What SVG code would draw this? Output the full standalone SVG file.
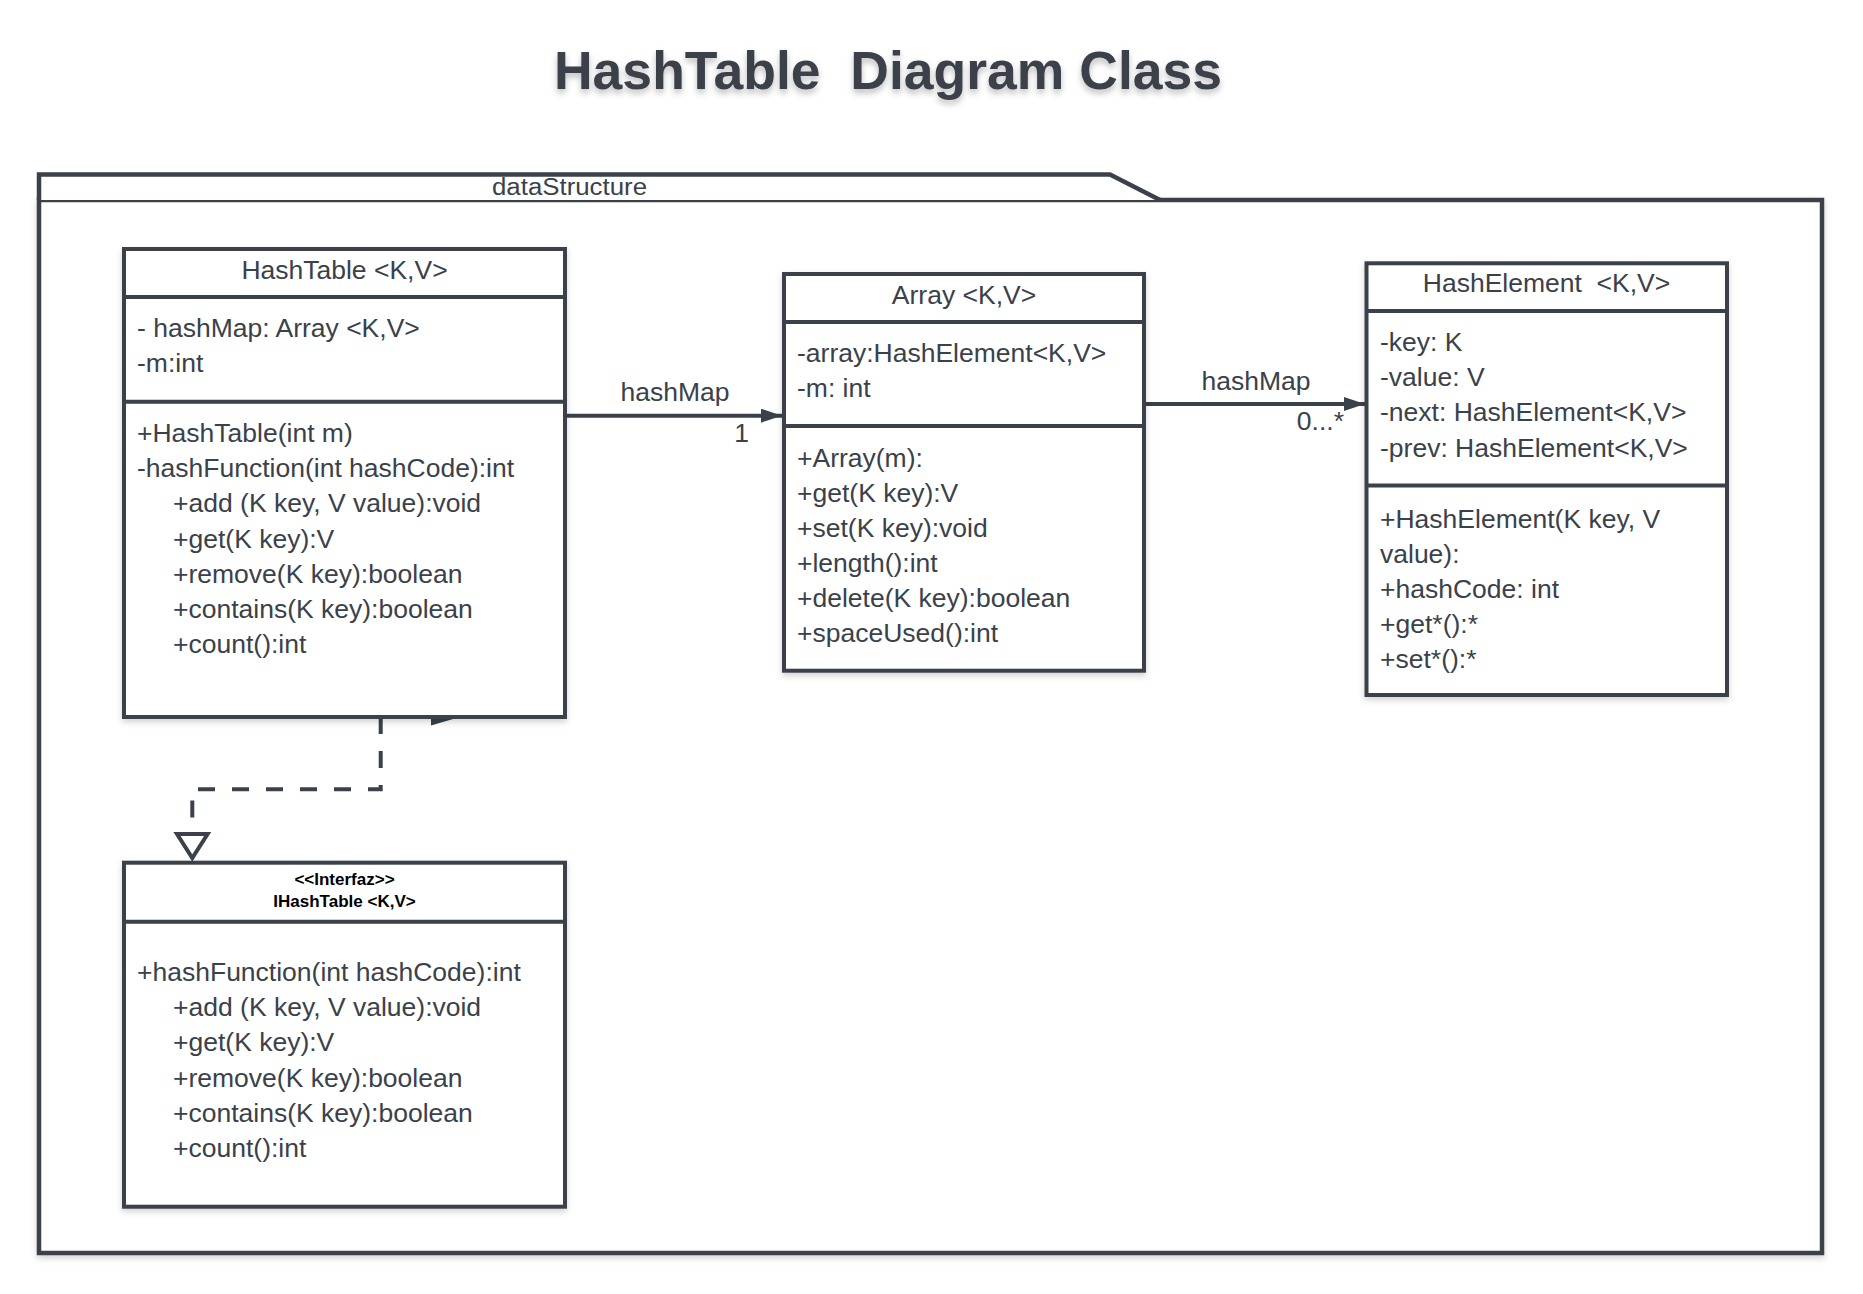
<svg xmlns="http://www.w3.org/2000/svg" width="1863" height="1294" viewBox="0 0 1863 1294">
<defs>
<style>
.box{fill:#fff;stroke:#3a414a;stroke-width:4}
.pk{fill:#fff;stroke:#3a414a;stroke-width:4.5}
.dv{stroke:#3a414a;stroke-width:4;fill:none}
.t{font-family:"Liberation Sans",Arial,sans-serif;font-size:26.5px;fill:#3a414a}
.c{text-anchor:middle}
.e{text-anchor:end}
.hb{font-family:"Liberation Sans",Arial,sans-serif;font-size:17px;font-weight:bold;fill:#000;text-anchor:middle}
.conn{stroke:#3a414a;stroke-width:4;fill:none}
</style>
<filter id="sh" x="-5%" y="-5%" width="110%" height="115%">
<feDropShadow dx="0" dy="3" stdDeviation="3" flood-color="#000" flood-opacity="0.18"/>
</filter>
<filter id="tsh" x="-10%" y="-30%" width="120%" height="170%">
<feDropShadow dx="0" dy="4" stdDeviation="3" flood-color="#000" flood-opacity="0.25"/>
</filter>
<marker id="arr" markerUnits="userSpaceOnUse" markerWidth="22" markerHeight="16" refX="21" refY="7" orient="auto">
<path d="M0,0 L21,7 L0,14 z" fill="#3a414a"/>
</marker>
</defs>

<text x="888" y="89" xml:space="preserve" filter="url(#tsh)" style="font-family:'Liberation Sans',Arial,sans-serif;font-size:53.5px;font-weight:bold;fill:#3a414a;text-anchor:middle">HashTable  Diagram Class</text>

<g id="package-dataStructure">
<rect x="39" y="200" width="1783" height="1053" class="pk" filter="url(#sh)"/>
<path d="M39,200 V174.5 H1110 L1160,200" class="pk"/>
<text x="569.5" y="195" class="t c" style="font-size:23px" textLength="155" lengthAdjust="spacingAndGlyphs">dataStructure</text>
</g>

<g id="connectors">
<line x1="565" y1="415.7" x2="782" y2="415.7" class="conn" marker-end="url(#arr)"/>
<text x="675" y="401" class="t c">hashMap</text>
<text x="749" y="442" class="t e">1</text>
<line x1="1144" y1="404" x2="1365" y2="404" class="conn" marker-end="url(#arr)"/>
<text x="1256" y="390" class="t c">hashMap</text>
<text x="1344" y="430" class="t e">0...*</text>
<path d="M380.7,717 V789.3 H192.3 V834" class="conn" stroke-dasharray="17 17"/>
<polygon points="177,834 207.6,834 192.3,858" fill="#fff" stroke="#3a414a" stroke-width="4"/>
<polygon points="431,712.5 453,719 431,725.5" fill="#3a414a"/>
</g>

<g id="class-HashTable">
<rect x="124" y="249" width="441" height="468" class="box" filter="url(#sh)"/>
<line x1="124" y1="297" x2="565" y2="297" class="dv"/>
<line x1="124" y1="401.7" x2="565" y2="401.7" class="dv"/>
<text x="344.5" y="279" class="t c">HashTable &lt;K,V&gt;</text>
<text x="137" y="337" class="t">- hashMap: Array &lt;K,V&gt;</text>
<text x="137" y="372" class="t">-m:int</text>
<text x="137" y="442" class="t">+HashTable(int m)</text>
<text x="137" y="477.2" class="t">-hashFunction(int hashCode):int</text>
<text x="173" y="512.4" class="t">+add (K key, V value):void</text>
<text x="173" y="547.6" class="t">+get(K key):V</text>
<text x="173" y="582.8" class="t">+remove(K key):boolean</text>
<text x="173" y="618" class="t">+contains(K key):boolean</text>
<text x="173" y="653.2" class="t">+count():int</text>
</g>

<g id="class-Array">
<rect x="784" y="274" width="360" height="396.7" class="box" filter="url(#sh)"/>
<line x1="784" y1="322" x2="1144" y2="322" class="dv"/>
<line x1="784" y1="426" x2="1144" y2="426" class="dv"/>
<text x="964" y="304" class="t c">Array &lt;K,V&gt;</text>
<text x="797" y="362" class="t">-array:HashElement&lt;K,V&gt;</text>
<text x="797" y="397" class="t">-m: int</text>
<text x="797" y="467" class="t">+Array(m):</text>
<text x="797" y="502" class="t">+get(K key):V</text>
<text x="797" y="537" class="t">+set(K key):void</text>
<text x="797" y="572" class="t">+length():int</text>
<text x="797" y="607" class="t">+delete(K key):boolean</text>
<text x="797" y="642" class="t">+spaceUsed():int</text>
</g>

<g id="class-HashElement">
<rect x="1366.5" y="263.3" width="360.5" height="431.7" class="box" filter="url(#sh)"/>
<line x1="1366.5" y1="311" x2="1727" y2="311" class="dv"/>
<line x1="1366.5" y1="485.5" x2="1727" y2="485.5" class="dv"/>
<text x="1546.5" y="292" class="t c" xml:space="preserve">HashElement  &lt;K,V&gt;</text>
<text x="1380" y="351" class="t">-key: K</text>
<text x="1380" y="386.2" class="t">-value: V</text>
<text x="1380" y="421.4" class="t">-next: HashElement&lt;K,V&gt;</text>
<text x="1380" y="456.6" class="t">-prev: HashElement&lt;K,V&gt;</text>
<text x="1380" y="527.5" class="t">+HashElement(K key, V</text>
<text x="1380" y="562.7" class="t">value):</text>
<text x="1380" y="597.9" class="t">+hashCode: int</text>
<text x="1380" y="633.1" class="t">+get*():*</text>
<text x="1380" y="668.3" class="t">+set*():*</text>
</g>

<g id="interface-IHashTable">
<rect x="124" y="862.7" width="441" height="344" class="box" filter="url(#sh)"/>
<line x1="124" y1="921.7" x2="565" y2="921.7" class="dv"/>
<text x="344.5" y="885" class="hb">&lt;&lt;Interfaz&gt;&gt;</text>
<text x="344.5" y="907" class="hb">IHashTable &lt;K,V&gt;</text>
<text x="137" y="981" class="t">+hashFunction(int hashCode):int</text>
<text x="173" y="1016.2" class="t">+add (K key, V value):void</text>
<text x="173" y="1051.4" class="t">+get(K key):V</text>
<text x="173" y="1086.6" class="t">+remove(K key):boolean</text>
<text x="173" y="1121.8" class="t">+contains(K key):boolean</text>
<text x="173" y="1157" class="t">+count():int</text>
</g>
</svg>
